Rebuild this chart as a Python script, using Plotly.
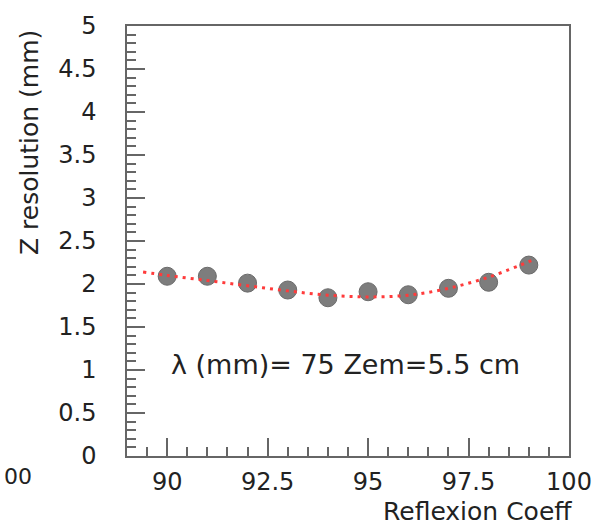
import plotly.graph_objects as go

# Measured points
reflexion = [90, 91, 92, 93, 94, 95, 96, 97, 98, 99]
z_res = [2.09, 2.09, 2.01, 1.93, 1.84, 1.91, 1.875, 1.95, 2.02, 2.22]

# Fitted curve
fit_x = [89.4, 90, 91, 92, 93, 94, 95, 96, 97, 98, 99, 99.1]
fit_y = [2.14, 2.10, 2.04, 1.98, 1.92, 1.87, 1.85, 1.87, 1.95, 2.08, 2.26, 2.28]

x_ticks = [90, 92.5, 95, 97.5, 100]
y_ticks = [0, 0.5, 1, 1.5, 2, 2.5, 3, 3.5, 4, 4.5, 5]

FONT = "DejaVu Sans"
TXT = "#222"
AX = "#666"

fig = go.Figure()
fig.add_trace(go.Scatter(
    x=reflexion, y=z_res, mode="markers",
    marker=dict(size=18, color="#7d7d7d", line=dict(width=1, color="#6a6a6a")),
    showlegend=False, cliponaxis=False,
))
fig.add_trace(go.Scatter(
    x=fit_x, y=fit_y, mode="lines", line_shape="spline",
    line=dict(color="#ff3b3b", width=3, dash="3px,5px"),
    showlegend=False,
))

fig.update_layout(
    width=604, height=531,
    margin=dict(l=127, r=27, t=16, b=75),
    paper_bgcolor="white", plot_bgcolor="white",
    font=dict(family=FONT, size=24, color=TXT),
    xaxis=dict(
        range=[89, 100], tickvals=x_ticks, ticktext=[str(v) for v in x_ticks],
        tickfont=dict(size=24),
        ticks="inside", ticklen=18, tickwidth=1.5, tickcolor=AX,
        minor=dict(dtick=0.5, tick0=0, ticks="inside", ticklen=9, tickwidth=1.5, tickcolor=AX),
        showline=True, linecolor=AX, linewidth=1.5, mirror=True,
        showgrid=False, zeroline=False, ticklabelstandoff=3,
    ),
    yaxis=dict(
        range=[0, 5], tickvals=y_ticks, ticktext=[("%g" % v) for v in y_ticks],
        tickfont=dict(size=24),
        ticks="inside", ticklen=18, tickwidth=1.5, tickcolor=AX,
        minor=dict(dtick=0.1, tick0=0, ticks="inside", ticklen=9, tickwidth=1.5, tickcolor=AX),
        showline=True, linecolor=AX, linewidth=1.5, mirror=True,
        showgrid=False, zeroline=False, ticklabelstandoff=24,
    ),
)

fig.add_annotation(
    text="λ (mm)= 75 Zem=5.5 cm", xref="paper", yref="paper",
    x=(349 - 127) / 450, y=(456 - 362) / 440, showarrow=False,
    font=dict(family=FONT, size=27, color=TXT), xanchor="center", yanchor="middle",
)
fig.add_annotation(
    text="Reflexion Coeff", xref="paper", yref="paper",
    x=1 - (577 - 582) / 450, y=-(513 - 456) / 440, showarrow=False,
    font=dict(family=FONT, size=25, color=TXT), xanchor="right", yanchor="middle",
)
fig.add_annotation(
    text="Z resolution (mm)", xref="paper", yref="paper",
    x=-(127 - 28) / 450, y=(456 - 135) / 440, showarrow=False, textangle=-90,
    font=dict(family=FONT, size=25, color=TXT), xanchor="center", yanchor="middle",
)
fig.add_annotation(
    text="00", xref="paper", yref="paper",
    x=-(127 - 0) / 450, y=-(477 - 456) / 440, showarrow=False,
    font=dict(family=FONT, size=22, color=TXT), xanchor="left", yanchor="middle",
)

fig.write_html("out.html")
